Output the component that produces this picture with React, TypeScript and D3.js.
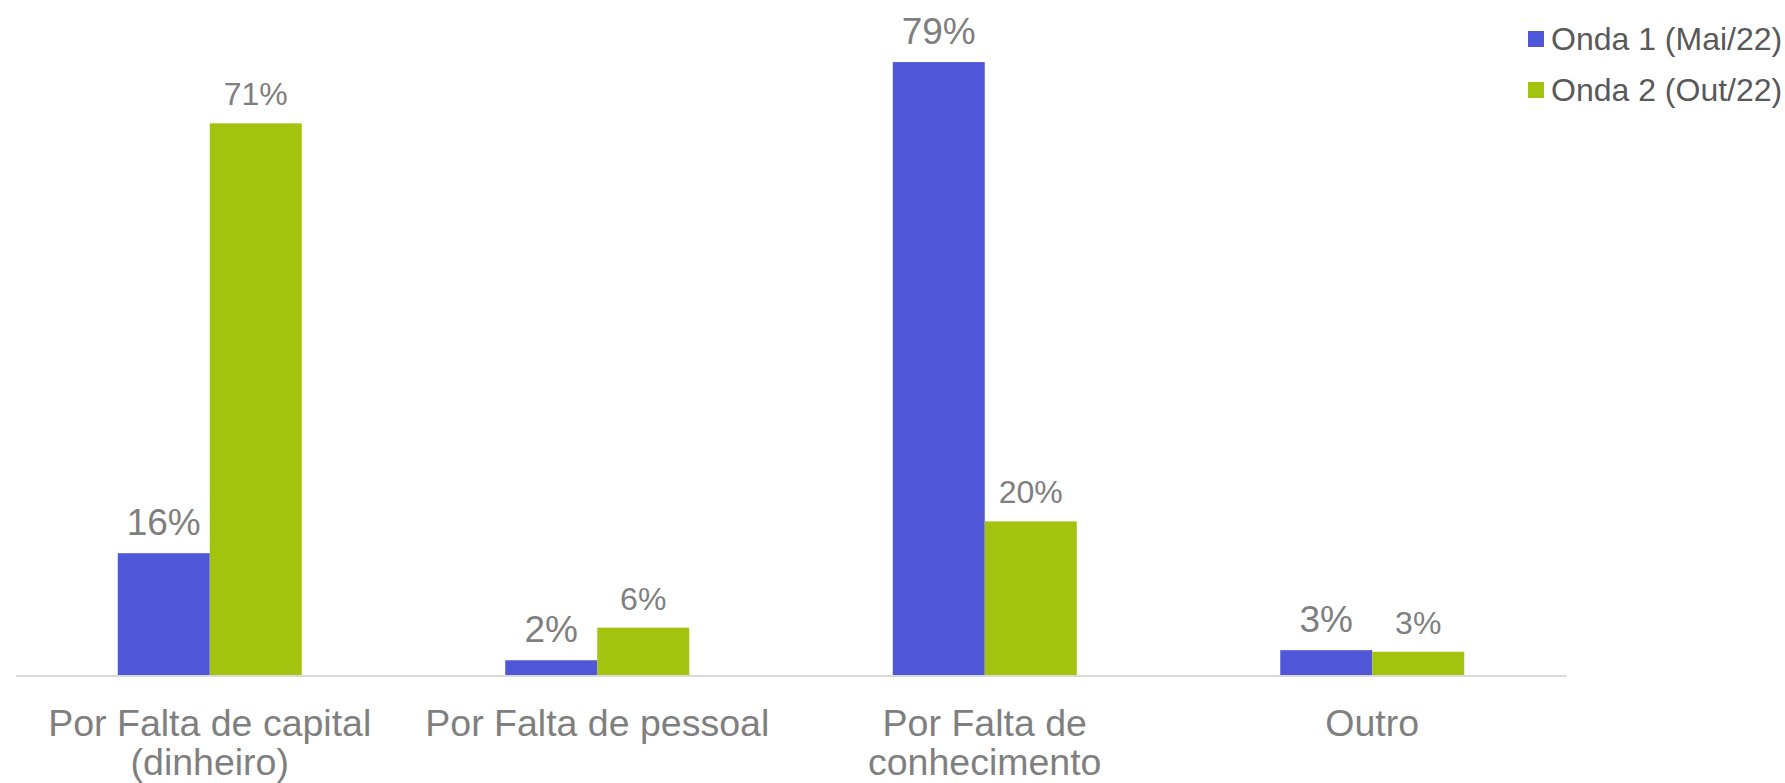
import React from "react";
import * as d3 from "d3";

const categories = [
  "Por Falta de capital\n(dinheiro)",
  "Por Falta de pessoal",
  "Por Falta de\nconhecimento",
  "Outro",
];
const seriesNames = ["Onda 1 (Mai/22)", "Onda 2 (Out/22)"];
const onda1 = [15.7, 1.9, 79, 3.2];
const onda2 = [71.1, 6.1, 19.8, 3.0];
const colors = ["#5056D8", "#A3C40F"];

const W = 1785;
const H = 783;

export default function App() {
  const x = d3.scaleBand<string>().domain(categories).range([16, 1566]).padding(0);
  const inner = d3
    .scaleBand<string>()
    .domain(seriesNames)
    .range([0, x.bandwidth()])
    .paddingInner(0)
    .paddingOuter(1.106);
  const y = d3.scaleLinear().domain([0, 87]).range([675, 0]);
  const series = [onda1, onda2];
  const labelSizes = [37, 32];

  return (
    <svg
      width={W}
      height={H}
      style={{ position: "absolute", left: 0, top: 0, background: "#fff" }}
      fontFamily="'Liberation Sans', Arial, Helvetica, sans-serif"
    >
      {series.map((vals, si) =>
        categories.map((c, ci) => {
          const bx = (x(c) ?? 0) + (inner(seriesNames[si]) ?? 0);
          const bw = inner.bandwidth();
          const top = y(vals[ci]);
          return (
            <g key={`${si}-${ci}`}>
              <rect x={bx} y={top} width={bw} height={y(0) - top} fill={colors[si]} />
              <text
                x={bx + bw / 2}
                y={top - 18}
                textAnchor="middle"
                fontSize={labelSizes[si]}
                fill="#7F7F7F"
              >
                {`${Math.round(vals[ci])}%`}
              </text>
            </g>
          );
        })
      )}
      <line x1={16} x2={1566} y1={y(0) + 1} y2={y(0) + 1} stroke="#D9D9D9" strokeWidth={2} />
      {categories.map((c) => {
        const cx = (x(c) ?? 0) + x.bandwidth() / 2;
        return (
          <text key={c} x={cx} y={736} textAnchor="middle" fontSize={37.5} fill="#7F7F7F">
            {c.split("\n").map((line, i) => (
              <tspan key={i} x={cx} dy={i === 0 ? 0 : 39}>
                {line}
              </tspan>
            ))}
          </text>
        );
      })}
      {seriesNames.map((s, i) => (
        <g key={s} transform={`translate(1528, ${31 + i * 51})`}>
          <rect x={0} y={0} width={16} height={16} fill={colors[i]} />
          <text x={23} y={19} fontSize={32} fill="#595959">
            {s}
          </text>
        </g>
      ))}
    </svg>
  );
}
